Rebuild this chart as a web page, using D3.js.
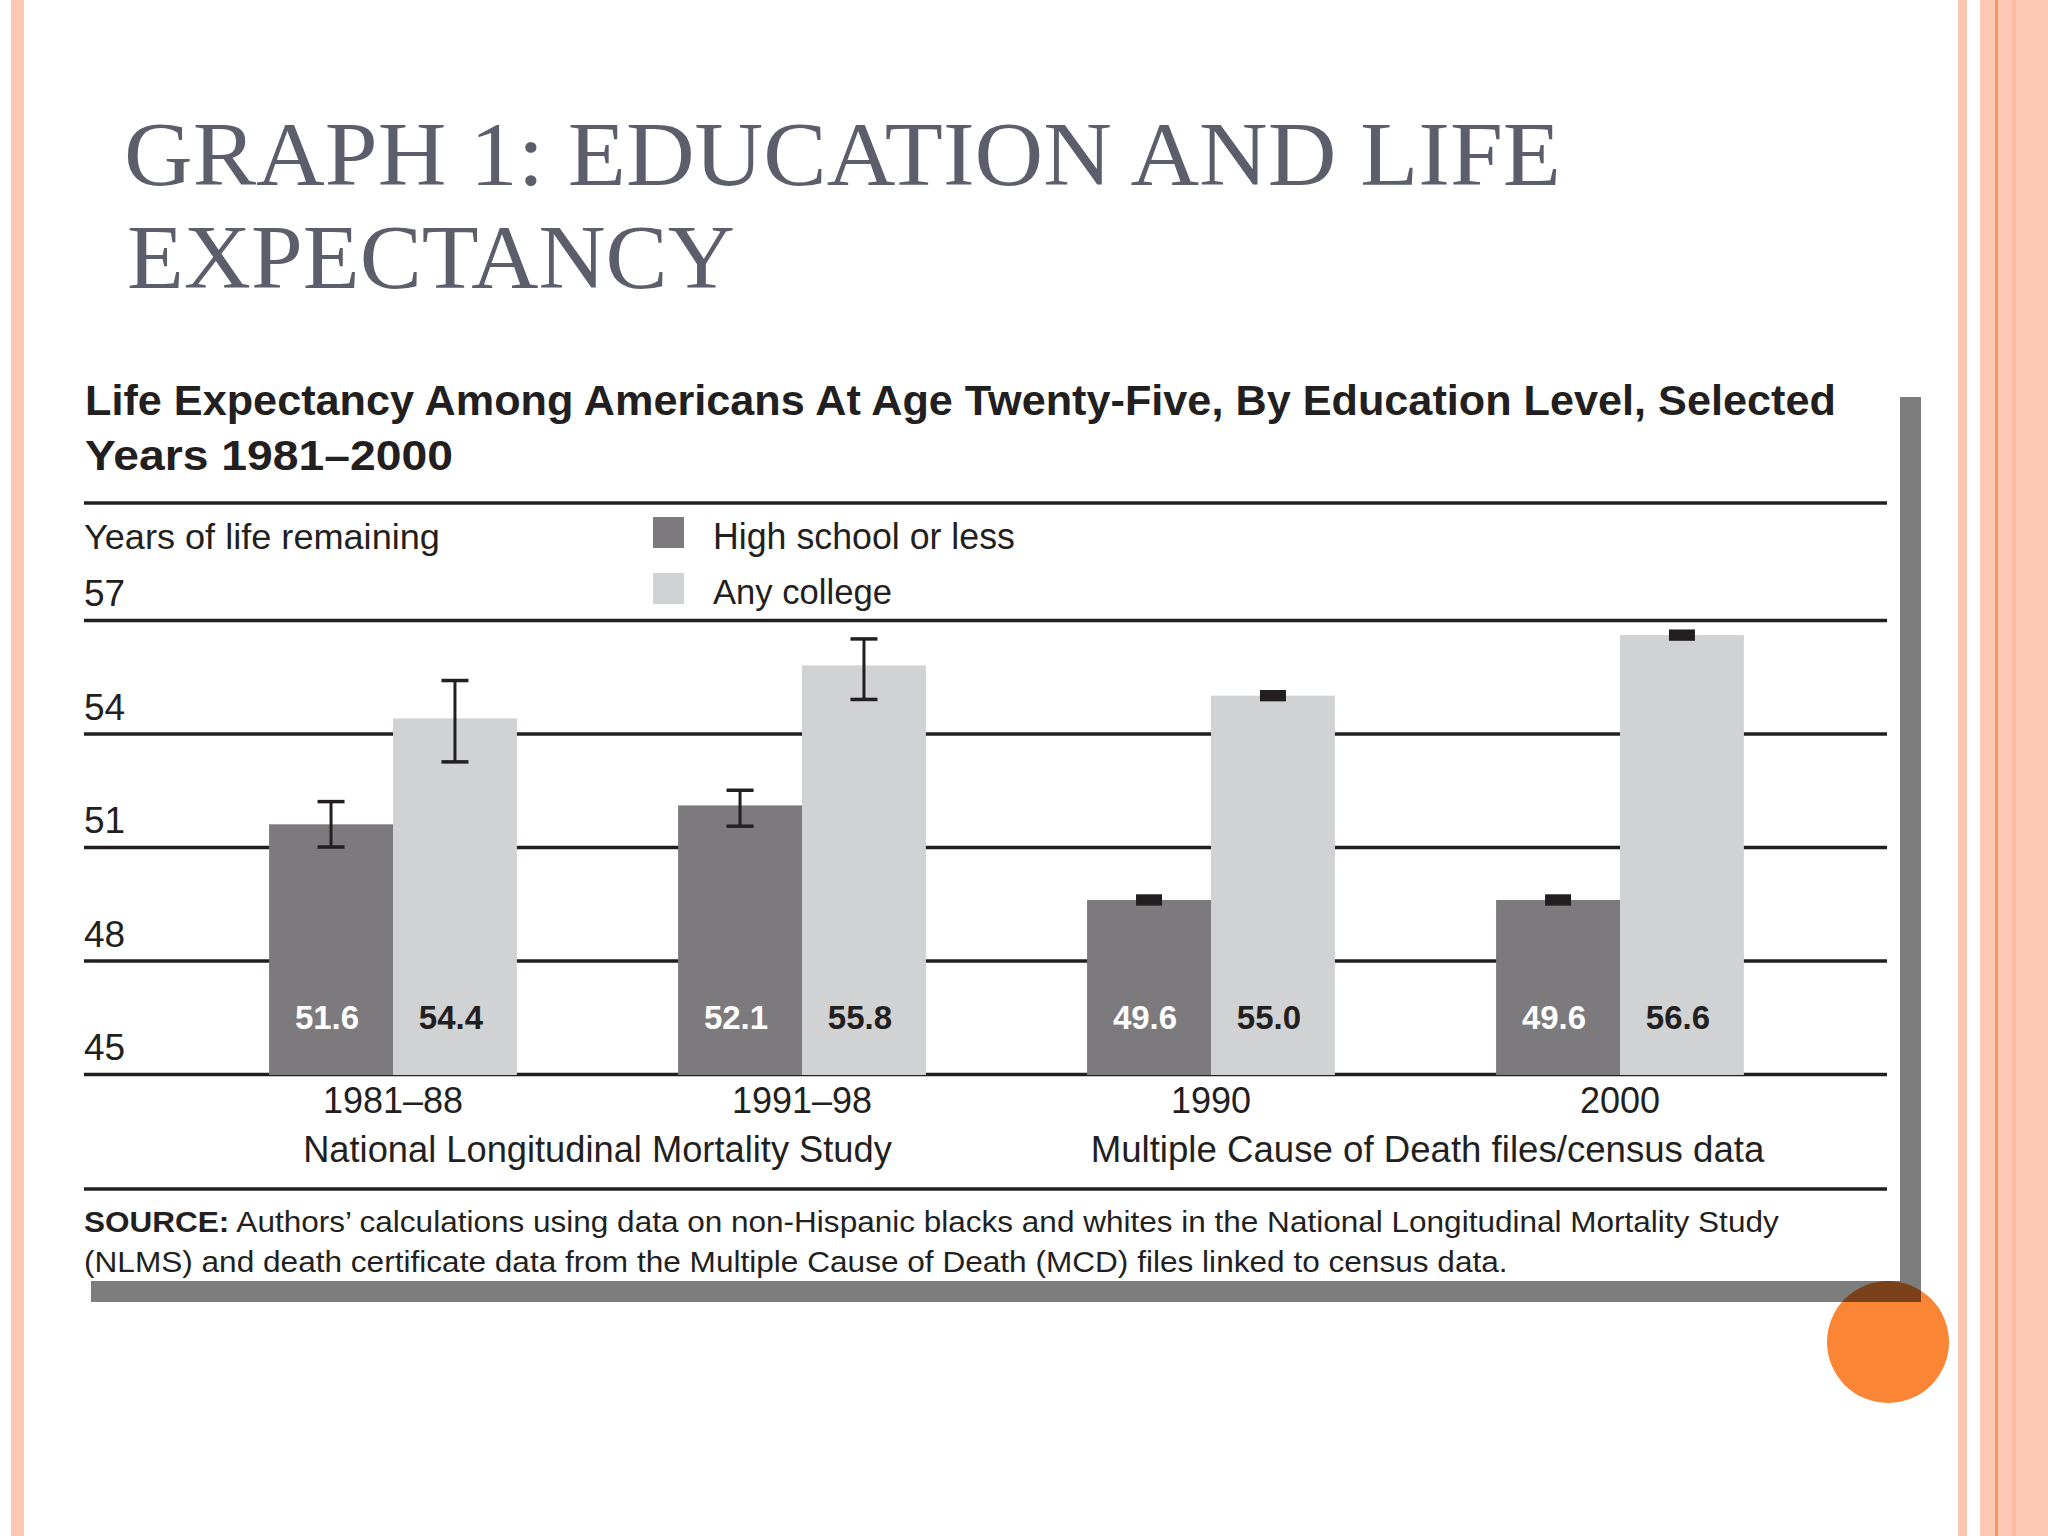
<!DOCTYPE html>
<html>
<head>
<meta charset="utf-8">
<script src="https://cdn.jsdelivr.net/npm/d3@7"></script>
<style>
  html, body { margin: 0; padding: 0; background: #ffffff; }
  svg { display: block; }
</style>
</head>
<body>
<script>
// ---------------- DATA ----------------
const categories = ["1981–88", "1991–98", "1990", "2000"];
const seriesNames = ["High school or less", "Any college"];
const hsValues = [51.6, 52.1, 49.6, 49.6];
const collegeValues = [54.4, 55.8, 55.0, 56.6];
const hsLow = [51.0, 51.55, 49.45, 49.45];
const hsHigh = [52.2, 52.5, 49.75, 49.75];
const collegeLow = [53.25, 54.9, 54.85, 56.45];
const collegeHigh = [55.4, 56.5, 55.15, 56.75];
const yTicks = [45, 48, 51, 54, 57];
const sourceGroups = ["National Longitudinal Mortality Study", "Multiple Cause of Death files/census data"];
const sourceGroupMembers = [[0, 1], [2, 3]];

const slideTitle = ["GRAPH 1: EDUCATION AND LIFE", "EXPECTANCY"];
const chartTitle = ["Life Expectancy Among Americans At Age Twenty-Five, By Education Level, Selected", "Years 1981–2000"];
const yAxisTitle = "Years of life remaining";
const sourceBold = "SOURCE:";
const sourceLines = [" Authors’ calculations using data on non-Hispanic blacks and whites in the National Longitudinal Mortality Study",
                     "(NLMS) and death certificate data from the Multiple Cause of Death (MCD) files linked to census data."];

// ---------------- SETUP ----------------
const W = 2048, H = 1536;
const svg = d3.select("body").append("svg").attr("width", W).attr("height", H);
svg.append("rect").attr("width", W).attr("height", H).attr("fill", "#ffffff");

const sans = "'Liberation Sans Narrow', 'Liberation Sans', Arial, sans-serif";
const ink = "#231f20";
const darkFill = "#7c7a7d";
const lightFill = "#d1d2d4";

function fit(sel, x, y, target, anchor) {
  sel.attr("x", 0).attr("y", 0).attr("text-anchor", anchor || "start");
  const w = sel.node().getComputedTextLength();
  sel.attr("transform", `translate(${x},${y}) scale(${target / w},1)`);
  return sel;
}

// ---------------- SLIDE FRAME ----------------
const frame = svg.append("g");
frame.append("rect").attr("x", 11).attr("y", 0).attr("width", 13).attr("height", H).attr("fill", "#fcc7b3");
frame.append("rect").attr("x", 1958).attr("y", 0).attr("width", 9).attr("height", H).attr("fill", "#fcc5b0");
frame.append("rect").attr("x", 1980).attr("y", 0).attr("width", 68).attr("height", H).attr("fill", "#fdc8b4");
frame.append("rect").attr("x", 1995).attr("y", 0).attr("width", 3).attr("height", H).attr("fill", "#f39866");
frame.append("rect").attr("x", 2012).attr("y", 0).attr("width", 4).attr("height", H).attr("fill", "#fbbca3");

// ---------------- SLIDE TITLE ----------------
const titleG = svg.append("g").attr("fill", "#5c5f6b")
  .style("font-family", "'Liberation Serif', 'Times New Roman', serif").style("font-size", "90px");
fit(titleG.append("text").text(slideTitle[0]), 124, 185, 1437);
fit(titleG.append("text").text(slideTitle[1]), 127, 288, 608);

// ---------------- CHART TITLE ----------------
const ctG = svg.append("g").attr("fill", ink).style("font-family", "'Liberation Sans', Arial, sans-serif")
  .style("font-size", "43px").style("font-weight", "bold");
fit(ctG.append("text").text(chartTitle[0]), 85, 415, 1751);
fit(ctG.append("text").text(chartTitle[1]), 85, 470, 368);

// ---------------- SHADOW + CIRCLE ----------------
svg.append("circle").attr("cx", 1888).attr("cy", 1342).attr("r", 61).attr("fill", "#fa8535");
svg.append("path")
  .attr("d", "M1900,397 L1921,397 L1921,1302 L91,1302 L91,1281 L1900,1281 Z")
  .attr("fill", "#000000").attr("fill-opacity", 0.51);

// ---------------- SCALES ----------------
const x = d3.scaleBand().domain(categories).range([188.5, 1824.5]).paddingInner(0.394).paddingOuter(0.197);
const xs = d3.scaleBand().domain(seriesNames).range([0, x.bandwidth()]);
const y = d3.scaleLinear().domain([45, 57]).range([1074, 620]);
const left = 84, right = 1887;

// ---------------- RULES ----------------
svg.append("line").attr("x1", left).attr("x2", right).attr("y1", 503).attr("y2", 503)
  .attr("stroke", ink).attr("stroke-width", 3.5);
svg.append("line").attr("x1", left).attr("x2", right).attr("y1", 1189).attr("y2", 1189)
  .attr("stroke", ink).attr("stroke-width", 3.5);

// gridlines via axis
const yAxis = d3.axisLeft(y).tickValues(yTicks).tickSize(-(right - left)).tickFormat("");
const grid = svg.append("g").attr("transform", `translate(${left},0)`).call(yAxis);
grid.select(".domain").remove();
grid.selectAll(".tick line").attr("stroke", ink).attr("stroke-width", 3.5);

// tick labels
svg.append("g").selectAll("text").data(yTicks).join("text")
  .attr("x", left).attr("y", d => y(d) - 14)
  .attr("fill", ink).style("font-family", sans).style("font-size", "37px")
  .text(d => d);

// y-axis title
fit(svg.append("text").attr("fill", ink).style("font-family", sans).style("font-size", "36px").text(yAxisTitle),
    84, 549, 356);

// ---------------- LEGEND ----------------
const legY = [517, 573];
const legFills = [darkFill, lightFill];
const legWidths = [302, 179];
const legBase = [549, 604];
seriesNames.forEach((s, i) => {
  svg.append("rect").attr("x", 653).attr("y", legY[i]).attr("width", 31).attr("height", 31).attr("fill", legFills[i]);
  fit(svg.append("text").attr("fill", ink).style("font-family", sans).style("font-size", "36px").text(s),
      713, legBase[i], legWidths[i]);
});

// ---------------- BARS ----------------
const rows = categories.map((c, i) => ({
  cat: c,
  bars: [
    { s: seriesNames[0], v: hsValues[i], lo: hsLow[i], hi: hsHigh[i], fill: darkFill, label: "#ffffff" },
    { s: seriesNames[1], v: collegeValues[i], lo: collegeLow[i], hi: collegeHigh[i], fill: lightFill, label: ink }
  ]
}));

const groups = svg.append("g").selectAll("g").data(rows).join("g")
  .attr("transform", d => `translate(${x(d.cat)},0)`);

groups.selectAll("rect.bar").data(d => d.bars).join("rect").attr("class", "bar")
  .attr("x", d => xs(d.s)).attr("width", xs.bandwidth())
  .attr("y", d => y(d.v)).attr("height", d => y(45) - y(d.v) + 1)
  .attr("fill", d => d.fill);

// value labels
groups.selectAll("text.val").data(d => d.bars).join("text").attr("class", "val")
  .attr("x", d => xs(d.s) + xs.bandwidth() / 2 - 4).attr("y", 1029)
  .attr("text-anchor", "middle").attr("fill", d => d.label)
  .style("font-family", sans).style("font-size", "33px").style("font-weight", "bold")
  .text(d => d.v.toFixed(1));

// error bars
groups.each(function (d) {
  const g = d3.select(this);
  d.bars.forEach(b => {
    const cx = xs(b.s) + xs.bandwidth() / 2;
    const yt = y(b.hi), yb = y(b.lo);
    if (yb - yt < 16) {
      g.append("rect").attr("x", cx - 13).attr("y", yt).attr("width", 26).attr("height", yb - yt).attr("fill", ink);
    } else {
      g.append("line").attr("x1", cx).attr("x2", cx).attr("y1", yt).attr("y2", yb).attr("stroke", ink).attr("stroke-width", 3);
      g.append("line").attr("x1", cx - 13.5).attr("x2", cx + 13.5).attr("y1", yt).attr("y2", yt).attr("stroke", ink).attr("stroke-width", 3.5);
      g.append("line").attr("x1", cx - 13.5).attr("x2", cx + 13.5).attr("y1", yb).attr("y2", yb).attr("stroke", ink).attr("stroke-width", 3.5);
    }
  });
});

// ---------------- CATEGORY LABELS ----------------
const xAxis = d3.axisBottom(x).tickSize(0).tickPadding(0);
const xg = svg.append("g").attr("transform", "translate(0,1113)").call(xAxis);
xg.select(".domain").remove();
xg.selectAll(".tick text").attr("dy", 0).attr("y", 0)
  .attr("fill", ink).style("font-family", sans).style("font-size", "36px");

// source group labels
const groupWidths = [589, 674];
const groupOffsets = [0, 12];
sourceGroups.forEach((g, i) => {
  const [a, b] = sourceGroupMembers[i];
  const cx = (x(categories[a]) + x(categories[b]) + x.bandwidth()) / 2 + groupOffsets[i];
  fit(svg.append("text").attr("fill", ink).style("font-family", sans).style("font-size", "37px").text(g),
      cx, 1162, groupWidths[i], "middle");
});

// ---------------- SOURCE ----------------
const s1 = svg.append("text").attr("fill", ink).style("font-family", sans).style("font-size", "30px");
s1.append("tspan").style("font-weight", "bold").text(sourceBold);
s1.append("tspan").text(sourceLines[0]);
fit(s1, 84, 1232, 1695);
fit(svg.append("text").attr("fill", ink).style("font-family", sans).style("font-size", "30px").text(sourceLines[1]),
    84, 1272, 1424);
</script>
</body>
</html>
